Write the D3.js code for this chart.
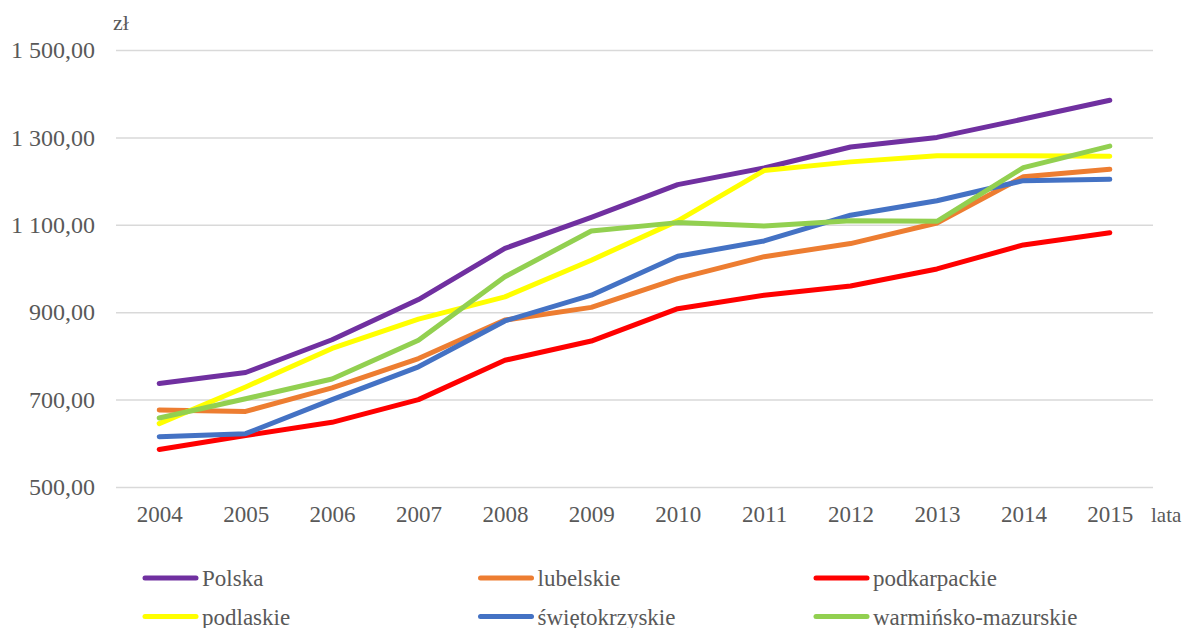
<!DOCTYPE html>
<html>
<head>
<meta charset="utf-8">
<script src="https://cdn.jsdelivr.net/npm/d3@7"></script>
</head>
<body style="margin:0; background:#fff">
<div id="chart"></div>
<script>
var years = [2004, 2005, 2006, 2007, 2008, 2009, 2010, 2011, 2012, 2013, 2014, 2015];
var yTicks = [500, 700, 900, 1100, 1300, 1500];

var polska = [737, 762, 837, 929, 1046, 1117, 1192, 1230, 1278, 1300, 1342, 1385];
var lubelskie = [676, 673, 727, 794, 882, 911, 977, 1027, 1057, 1104, 1210, 1227];
var podkarpackie = [586, 618, 648, 700, 790, 834, 908, 939, 960, 999, 1054, 1082];
var podlaskie = [645, 729, 817, 884, 935, 1019, 1109, 1224, 1244, 1258, 1258, 1257];
var swietokrzyskie = [615, 622, 700, 775, 880, 939, 1028, 1063, 1122, 1155, 1201, 1204];
var warminsko = [658, 702, 747, 836, 981, 1086, 1105, 1097, 1109, 1108, 1231, 1280];

var seriesNames = ["Polska", "lubelskie", "podkarpackie", "podlaskie", "świętokrzyskie", "warmińsko-mazurskie"];
var seriesColors = ["#7030A0", "#ED7D31", "#FF0000", "#FFFF00", "#4472C4", "#92D050"];
var seriesValues = [polska, lubelskie, podkarpackie, podlaskie, swietokrzyskie, warminsko];

var FONT = "Liberation Serif";
var width = 1189, height = 628;
var plot = {left: 116, right: 1153, top: 50, bottom: 487};

var svg = d3.select("#chart").append("svg")
    .attr("width", width).attr("height", height)
    .attr("font-family", FONT);

var x = d3.scalePoint().domain(years).range([plot.left, plot.right]).padding(0.5);
var y = d3.scaleLinear().domain([500, 1500]).range([plot.bottom, plot.top]);

var fmt = function(d) {
    var s = d3.format(",.2f")(d);
    return s.replace(/,/g, " ").replace(".", ",");
};

// grid
svg.append("g")
    .attr("transform", "translate(" + plot.left + ",0)")
    .call(d3.axisLeft(y).tickValues(yTicks).tickSize(-(plot.right - plot.left)).tickFormat(""))
    .call(function(g) { g.select(".domain").remove(); })
    .selectAll("line").attr("stroke", "#d9d9d9").attr("stroke-width", 1.5);

// y axis labels
svg.append("g")
    .attr("transform", "translate(" + plot.left + ",0)")
    .call(d3.axisLeft(y).tickValues(yTicks).tickSize(0).tickPadding(21).tickFormat(fmt))
    .attr("font-family", FONT).attr("font-size", 24)
    .call(function(g) { g.select(".domain").remove(); })
    .selectAll("text").attr("fill", "#595959");

// x axis labels
svg.append("g")
    .attr("transform", "translate(0," + plot.bottom + ")")
    .call(d3.axisBottom(x).tickSize(0).tickPadding(19))
    .attr("font-family", FONT).attr("font-size", 23)
    .call(function(g) { g.select(".domain").remove(); })
    .selectAll("text").attr("fill", "#595959");

svg.append("text").attr("x", 113).attr("y", 30).attr("font-size", 22).attr("fill", "#595959").text("zł");
svg.append("text").attr("x", 1151).attr("y", 522).attr("font-size", 21).attr("fill", "#595959").text("lata");

// lines
var line = d3.line()
    .x(function(d, i) { return x(years[i]); })
    .y(function(d) { return y(d); });

svg.append("g").selectAll("path")
    .data(seriesValues)
    .join("path")
    .attr("d", line)
    .attr("fill", "none")
    .attr("stroke", function(d, i) { return seriesColors[i]; })
    .attr("stroke-width", 5)
    .attr("stroke-linecap", "round")
    .attr("stroke-linejoin", "round");

// legend
var legend = svg.append("g").selectAll("g")
    .data(seriesNames)
    .join("g")
    .attr("transform", function(d, i) {
        return "translate(" + (145 + (i % 3) * 335.5) + "," + (578 + Math.floor(i / 3) * 38.5) + ")";
    });

legend.append("line")
    .attr("x1", 0).attr("x2", 51).attr("y1", 0).attr("y2", 0)
    .attr("stroke", function(d, i) { return seriesColors[i]; })
    .attr("stroke-width", 5)
    .attr("stroke-linecap", "round");

legend.append("text")
    .attr("x", 57).attr("y", 8)
    .attr("font-size", 23)
    .attr("fill", "#595959")
    .text(function(d) { return d; });
</script>
</body>
</html>
